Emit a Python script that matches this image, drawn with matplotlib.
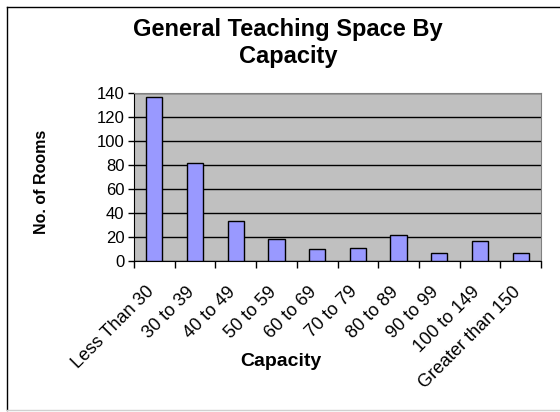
import matplotlib
matplotlib.use("Agg")
import matplotlib.pyplot as plt
import matplotlib.transforms as mtransforms
from matplotlib.lines import Line2D

categories = ["Less Than 30", "30 to 39", "40 to 49", "50 to 59", "60 to 69",
              "70 to 79", "80 to 89", "90 to 99", "100 to 149", "Greater than 150"]
rooms = [137, 82, 33, 18, 10, 11, 22, 7, 17, 7]
y_ticks = [0, 20, 40, 60, 80, 100, 120, 140]

plt.rcParams['font.family'] = ['Liberation Sans', 'DejaVu Sans']

fig = plt.figure(figsize=(5.6, 4.12), dpi=100)
ax = fig.add_axes([134 / 560, 1 - 261 / 412, 407 / 560, 168 / 412])
ax.set_facecolor("#C0C0C0")

xs = list(range(len(categories)))
ax.bar(xs, rooms, width=0.4, color="#9999FF", edgecolor="black", linewidth=1, zorder=3)

ax.set_xlim(-0.5, len(categories) - 0.5)
ax.set_ylim(0, 140)
ax.set_yticks(y_ticks)
ax.set_yticklabels([str(v) for v in y_ticks], fontsize=12)
ax.yaxis.grid(True, color="black", linewidth=1, zorder=1)
ax.tick_params(axis="y", direction="out", length=4, width=1, pad=3)

# ticks sit between categories, labels at the centre
ax.set_xticks([x - 0.5 for x in xs] + [len(categories) - 0.5])
ax.set_xticklabels([])
ax.tick_params(axis="x", direction="out", length=5, width=1)
ax.set_xticks(xs, minor=True)
ax.set_xticklabels(categories, minor=True, rotation=45, ha="right",
                   rotation_mode="anchor", fontsize=13)
ax.tick_params(axis="x", which="minor", length=0, pad=16)
shift = mtransforms.ScaledTranslation(-9 / 100, 0, fig.dpi_scale_trans)
for lab in ax.get_xticklabels(minor=True):
    lab.set_transform(lab.get_transform() + shift)

for side in ("top", "right"):
    ax.spines[side].set_color("#808080")
for side in ("left", "bottom"):
    ax.spines[side].set_color("black")

fig.text(288 / 560, 1 - 43 / 412, "General Teaching Space By\nCapacity",
         ha="center", va="center", fontsize=17, fontweight="bold", linespacing=1.25)
fig.text(41 / 560, 1 - 182 / 412, "No. of Rooms", rotation=90, ha="center",
         va="center", fontsize=11.5, fontweight="bold")
fig.text(281 / 560, 1 - 361 / 412, "Capacity", ha="center", va="center",
         fontsize=14, fontweight="bold")

# chart frame
fig.add_artist(Line2D([7 / 560, 7 / 560], [2 / 412, 1 - 7 / 412], color="black", lw=1))
fig.add_artist(Line2D([7 / 560, 1], [1 - 7 / 412, 1 - 7 / 412], color="black", lw=1))
fig.add_artist(Line2D([7 / 560, 1], [2 / 412, 2 / 412], color="#D0D0D0", lw=1))

fig.savefig("out.png", dpi=100)
